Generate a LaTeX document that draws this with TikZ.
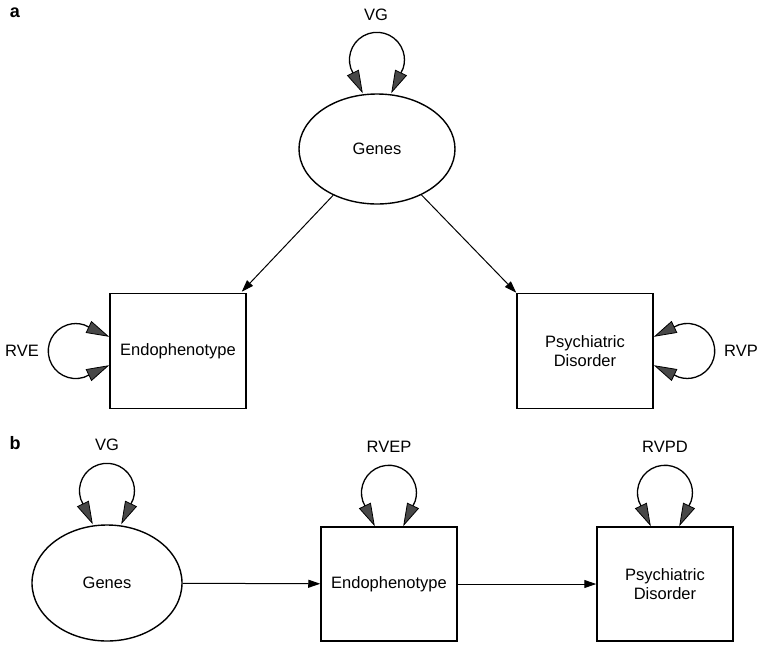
\documentclass[tikz,border=0pt]{standalone}
\usepackage{fontspec}
\setmainfont{Liberation Sans}
\usetikzlibrary{shapes.geometric,arrows.meta}
\definecolor{headgray}{HTML}{484848}
\newcommand\toploop[1]{\draw[selfloop] ([xshift=-14.2pt]#1.north) -- ++(-12,25) arc[start angle=198,end angle=-18,radius=27.5] -- ([xshift=14.2pt]#1.north);}
\newcommand\leftloop[1]{\draw[selfloop] ([yshift=-14.2pt]#1.west) -- ++(-25,-12) arc[start angle=288,end angle=72,radius=27.5] -- ([yshift=14.2pt]#1.west);}
\newcommand\rightloop[1]{\draw[selfloop] ([yshift=14.2pt]#1.east) -- ++(25,12) arc[start angle=108,end angle=-108,radius=27.5] -- ([yshift=-14.2pt]#1.east);}
\begin{document}
\begin{tikzpicture}[x=1pt,y=1pt,
  every node/.style={font=\fontsize{16.5}{19.5}\selectfont},
  box/.style={draw, line width=1.5pt, minimum width=136pt, minimum height=115pt, inner sep=0pt, align=center},
  oval/.style={draw, ellipse, line width=1.4pt, inner sep=0pt},
  patharrow/.style={line width=1pt, -{Triangle[length=12pt,width=8pt]}},
  selfloop/.style={line width=1.3pt,
    {Triangle[length=23pt,width=13pt,fill=headgray,line width=0.8pt]}-{Triangle[length=23pt,width=13pt,fill=headgray,line width=0.8pt]}},
  lab/.style={font=\fontsize{16.5}{19.5}\selectfont},
  panel/.style={font=\fontsize{18}{20}\selectfont\bfseries}
  ]
\useasboundingbox (0,0) rectangle (764,-649);
% panel a
\node[panel] (la) at (15,-13) {a};
\node[oval, minimum width=156pt, minimum height=110pt] (ga) at (377,-149) {Genes};
\node[box] (ea) at (178,-351) {Endophenotype};
\node[box] (pa) at (585,-351) {Psychiatric\\Disorder};
\node[lab] (vga) at (376,-15) {VG};
\node[lab] (rve) at (22,-351) {RVE};
\node[lab] (rvp) at (741,-351) {RVP};
\toploop{ga}
\leftloop{ea}
\rightloop{pa}
\draw[patharrow] (ga) -- ([xshift=-5pt,yshift=1pt]ea.north east);
\draw[patharrow] (ga) -- (pa.north west);
% panel b
\node[panel] (lb) at (15,-443) {b};
\node[oval, minimum width=150pt, minimum height=116pt] (gb) at (107,-583) {Genes};
\node[box, minimum height=114pt] (eb) at (389,-584) {Endophenotype};
\node[box, minimum height=114pt] (pb) at (665,-584) {Psychiatric\\Disorder};
\node[lab] (vgb) at (107,-445) {VG};
\node[lab] (rvep) at (389,-447) {RVEP};
\node[lab] (rvpd) at (665,-447) {RVPD};
\toploop{gb}
\toploop{eb}
\toploop{pb}
\draw[patharrow] (gb) -- (eb);
\draw[patharrow] (eb) -- (pb);
\end{tikzpicture}
\end{document}
